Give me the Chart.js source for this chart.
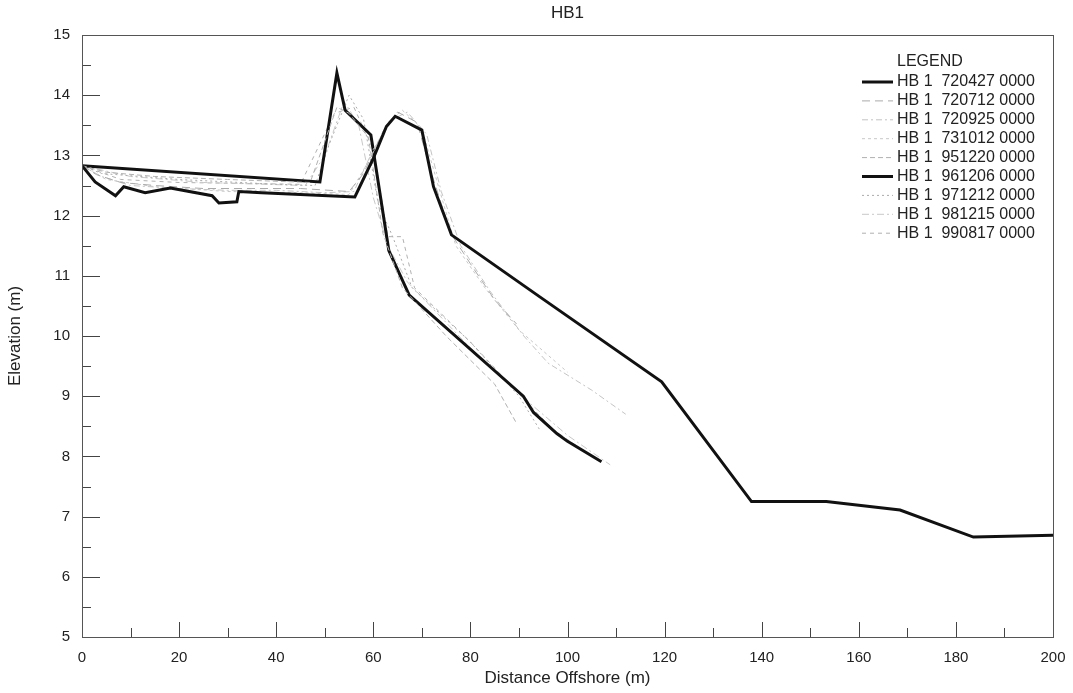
<!DOCTYPE html>
<html>
<head>
<meta charset="utf-8">
<script src="https://cdn.jsdelivr.net/npm/chart.js@4"></script>
<style>
  html, body { margin: 0; padding: 0; background: #fff; }
  #wrap { width: 1073px; height: 693px; }
</style>
</head>
<body>
<div id="wrap"><canvas id="myChart" width="1073" height="693"></canvas></div>
<script>
// profile data: distance offshore (m) / elevation (m)
const x720427 = [0, 2.7, 6.9, 8.6, 13, 18.2, 26.8, 28.2, 31.9, 32.3, 37, 56.2, 60, 62.7, 64.5, 70, 72.4, 76.1, 94.3, 119.4, 137.9, 153.3, 168.5, 183.6, 200];
const y720427 = [12.83, 12.56, 12.33, 12.48, 12.38, 12.46, 12.33, 12.21, 12.23, 12.4, 12.38, 12.31, 12.95, 13.48, 13.65, 13.42, 12.48, 11.68, 10.65, 9.24, 7.25, 7.25, 7.11, 6.66, 6.69];

const x720712 = [0, 3, 8, 15, 25, 35, 45, 55, 58, 62, 65, 69, 72, 76, 80, 85, 89.5];
const y720712 = [12.83, 12.68, 12.55, 12.5, 12.45, 12.45, 12.45, 12.4, 12.7, 13.4, 13.72, 13.55, 12.7, 11.7, 11.2, 10.6, 10.2];

const x720925 = [0, 4, 10, 20, 30, 40, 50, 56, 60, 64, 67, 71, 74, 78, 84, 91, 96, 105, 112];
const y720925 = [12.83, 12.65, 12.5, 12.45, 12.42, 12.42, 12.38, 12.4, 13.1, 13.6, 13.72, 13.35, 12.4, 11.5, 10.75, 10.0, 9.55, 9.1, 8.7];

const x731012 = [0, 5, 15, 30, 45, 55, 59, 63, 66, 70, 73, 77, 83, 90, 100];
const y731012 = [12.83, 12.6, 12.48, 12.4, 12.38, 12.35, 12.9, 13.55, 13.75, 13.45, 12.6, 11.5, 10.8, 10.1, 9.4];

const x951220 = [0, 5, 15, 30, 47, 52.5, 55, 59, 62, 66, 75, 85, 89.5];
const y951220 = [12.83, 12.72, 12.65, 12.6, 12.55, 13.8, 13.7, 13.3, 11.7, 10.8, 10.0, 9.2, 8.55];

const x961206 = [0, 49, 52.5, 54.2, 59.5, 63.2, 67.4, 90.9, 93, 97.8, 100, 107];
const y961206 = [12.83, 12.56, 14.37, 13.75, 13.34, 11.42, 10.68, 9.0, 8.73, 8.38, 8.25, 7.91];

const x971212 = [0, 4, 20, 40, 48, 51, 55, 58, 61, 64, 68, 80, 90, 94.3];
const y971212 = [12.83, 12.7, 12.6, 12.52, 12.5, 13.2, 14.0, 13.6, 12.2, 11.65, 10.8, 9.9, 9.0, 8.44];

const x981215 = [0, 10, 25, 46, 50, 54, 57, 60, 63, 67, 80, 92, 100, 108.8];
const y981215 = [12.83, 12.65, 12.55, 12.5, 13.0, 13.9, 13.5, 12.3, 11.5, 10.9, 9.8, 8.9, 8.35, 7.86];

const x990817 = [0, 8, 20, 45, 52, 56, 60, 63, 66, 68.5, 80, 91, 97, 105];
const y990817 = [12.83, 12.6, 12.55, 12.52, 13.7, 13.8, 13.1, 11.65, 11.65, 10.8, 9.9, 8.95, 8.45, 8.0];

function pts(xs, ys) {
  return xs.map((v, i) => ({ x: v, y: ys[i] }));
}

function line(label, xs, ys, color, width, dash) {
  return {
    label: label,
    data: pts(xs, ys),
    showLine: true,
    borderColor: color,
    borderWidth: width,
    borderDash: dash,
    pointRadius: 0,
    fill: false,
    tension: 0,
  };
}

const font = 'Liberation Sans, Arial, sans-serif';

// inward tick marks + frame + title centred over the plot
const tickMarks = {
  id: 'tickMarks',
  afterDraw(chart) {
    const c = chart.ctx;
    const a = chart.chartArea;
    const xs = chart.scales.x;
    const ys = chart.scales.y;
    c.save();
    c.strokeStyle = '#444';
    c.lineWidth = 1;
    c.beginPath();
    for (let v = 5; v <= 15; v += 0.5) {
      const p = Math.round(ys.getPixelForValue(v)) + 0.5;
      const len = v % 1 === 0 ? 18 : 9;
      c.moveTo(a.left, p);
      c.lineTo(a.left + len, p);
    }
    for (let v = 0; v <= 200; v += 10) {
      const p = Math.round(xs.getPixelForValue(v)) + 0.5;
      const len = v % 20 === 0 ? 15 : 9;
      c.moveTo(p, a.bottom);
      c.lineTo(p, a.bottom - len);
    }
    c.stroke();
    c.strokeStyle = '#555';
    c.strokeRect(a.left + 0.5, a.top + 0.5, a.right - a.left, a.bottom - a.top);
    c.fillStyle = '#222';
    c.font = '17px ' + font;
    c.textAlign = 'center';
    c.textBaseline = 'middle';
    c.fillText('HB1', (a.left + a.right) / 2, 13);
    c.restore();
  },
};

// legend drawn inside the plot area, top right
const insideLegend = {
  id: 'insideLegend',
  afterDraw(chart) {
    const c = chart.ctx;
    const a = chart.chartArea;
    const x0 = a.right - 191;
    c.save();
    c.fillStyle = '#222';
    c.font = '16px ' + font;
    c.textBaseline = 'middle';
    c.textAlign = 'left';
    c.fillText('LEGEND', x0 + 35, a.top + 27);
    chart.data.datasets.forEach((ds, i) => {
      const y = a.top + 47 + i * 18.9;
      c.save();
      c.strokeStyle = ds.borderColor;
      c.lineWidth = ds.borderWidth;
      c.setLineDash(ds.borderDash || []);
      c.beginPath();
      c.moveTo(x0, y);
      c.lineTo(x0 + 31, y);
      c.stroke();
      c.restore();
      c.fillText(ds.label, x0 + 35, y);
    });
    c.restore();
  },
};

const ctx = document.getElementById('myChart').getContext('2d');
const myChart = new Chart(ctx, {
  type: 'scatter',
  data: {
    datasets: [
      line('HB 1  720427 0000', x720427, y720427, '#111', 3, []),
      line('HB 1  720712 0000', x720712, y720712, '#aaa', 1, [8, 5]),
      line('HB 1  720925 0000', x720925, y720925, '#c4c4c4', 1, [6, 3, 2, 3]),
      line('HB 1  731012 0000', x731012, y731012, '#c8c8c8', 1, [3, 3]),
      line('HB 1  951220 0000', x951220, y951220, '#b0b0b0', 1, [5, 3]),
      line('HB 1  961206 0000', x961206, y961206, '#111', 3, []),
      line('HB 1  971212 0000', x971212, y971212, '#aaa', 1, [2, 3]),
      line('HB 1  981215 0000', x981215, y981215, '#c8c8c8', 1, [7, 3, 2, 3]),
      line('HB 1  990817 0000', x990817, y990817, '#b0b0b0', 1, [4, 4]),
    ],
  },
  plugins: [tickMarks, insideLegend],
  options: {
    responsive: false,
    animation: false,
    layout: { padding: { left: 0, right: 20, top: 35, bottom: 0 } },
    plugins: {
      legend: { display: false },
      tooltip: { enabled: false },
      title: { display: false },
    },
    scales: {
      x: {
        type: 'linear',
        min: 0,
        max: 200,
        afterFit: (s) => { s.height = 56; s.paddingRight = 0; s.paddingLeft = 0; },
        grid: { display: false, drawTicks: false },
        border: { display: false },
        ticks: { stepSize: 20, color: '#222', padding: 12, font: { family: font, size: 15 } },
        title: {
          display: true,
          text: 'Distance Offshore (m)',
          color: '#222',
          font: { family: font, size: 17 },
          padding: { top: 0, bottom: 4 },
        },
      },
      y: {
        type: 'linear',
        min: 5,
        max: 15,
        afterFit: (s) => { s.width = 82; },
        grid: { display: false, drawTicks: false },
        border: { display: false },
        ticks: { stepSize: 1, color: '#222', padding: 12, font: { family: font, size: 15 } },
        title: {
          display: true,
          text: 'Elevation (m)',
          color: '#222',
          font: { family: font, size: 17 },
          padding: { top: 5, bottom: 0 },
        },
      },
    },
  },
});
</script>
</body>
</html>
